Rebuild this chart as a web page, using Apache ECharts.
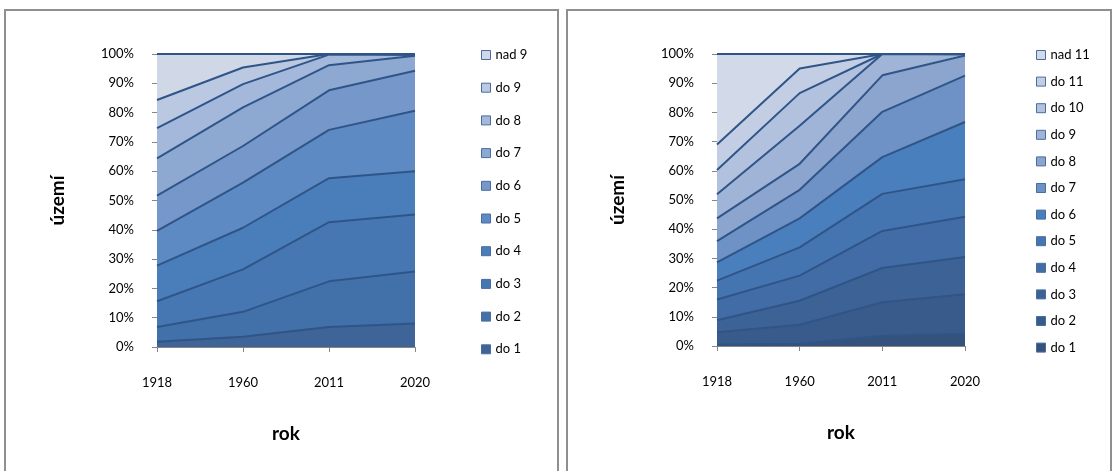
<!DOCTYPE html>
<html>
<head>
<meta charset="utf-8">
<script src="https://cdn.jsdelivr.net/npm/echarts@6/dist/echarts.min.js"></script>
<style>
  html, body { margin: 0; padding: 0; background: #fff; }
  #page { position: relative; width: 1114px; height: 471px; overflow: hidden; }
  .box { position: absolute; top: 9px; height: 480px; box-sizing: border-box; border: 2px solid #8f8f8f; }
  .chart { position: absolute; top: 0; height: 471px; }
</style>
</head>
<body>
<div id="page">
  <div class="box" style="left:4px; width:555px;"></div>
  <div class="box" style="left:566px; width:546px;"></div>
  <div id="left" class="chart" style="left:0; width:560px;"></div>
  <div id="right" class="chart" style="left:560px; width:554px;"></div>
</div>
<script>
// Census years on the horizontal axis
const years = ['1918', '1960', '2011', '2020'];
const yTickStep = 10;

// Left chart: share of territory per class (percent), from "do 1" up to "nad 9"
const leftNames = ['do 1', 'do 2', 'do 3', 'do 4', 'do 5', 'do 6', 'do 7', 'do 8', 'do 9', 'nad 9'];
const left_do1 = [1.8, 3.5, 6.8, 8.0];
const left_do2 = [5.0, 8.5, 15.6, 17.8];
const left_do3 = [8.8, 14.5, 20.2, 19.4];
const left_do4 = [12.2, 14.2, 15.0, 14.8];
const left_do5 = [11.8, 15.4, 16.5, 20.6];
const left_do6 = [12.1, 12.5, 13.5, 13.7];
const left_do7 = [12.7, 13.2, 8.6, 5.1];
const left_do8 = [10.3, 7.9, 3.6, 0.3];
const left_do9 = [9.6, 5.7, 0.2, 0.3];
const left_nad9 = [15.7, 4.6, 0.0, 0.0];
const leftShares = [left_do1, left_do2, left_do3, left_do4, left_do5, left_do6, left_do7, left_do8, left_do9, left_nad9];
const leftColors = ['#3e6498', '#4270a8', '#4677b2', '#4a7ebb', '#5e8ac3', '#7697c9', '#8ea9d1', '#a3b8da', '#bac8e1', '#d0d8e8'];

// Right chart: share of territory per class (percent), from "do 1" up to "nad 11"
const rightNames = ['do 1', 'do 2', 'do 3', 'do 4', 'do 5', 'do 6', 'do 7', 'do 8', 'do 9', 'do 10', 'do 11', 'nad 11'];
const right_do1 = [0.5, 0.8, 3.5, 4.2];
const right_do2 = [4.2, 6.5, 11.5, 13.5];
const right_do3 = [4.1, 8.2, 11.7, 12.8];
const right_do4 = [7.1, 8.6, 12.7, 13.8];
const right_do5 = [6.5, 9.7, 12.7, 12.8];
const right_do6 = [6.2, 9.9, 12.6, 19.6];
const right_do7 = [7.3, 9.8, 15.5, 15.9];
const right_do8 = [7.8, 8.9, 12.5, 6.9];
const right_do9 = [8.3, 13.0, 7.3, 0.3];
const right_do10 = [8.3, 11.2, 0.0, 0.2];
const right_do11 = [8.7, 8.4, 0.0, 0.0];
const right_nad11 = [31.0, 5.0, 0.0, 0.0];
const rightShares = [right_do1, right_do2, right_do3, right_do4, right_do5, right_do6, right_do7, right_do8, right_do9, right_do10, right_do11, right_nad11];
const rightColors = ['#35527c', '#395b8b', '#3d6396', '#416ca5', '#4575b0', '#4a7fbd', '#6e91c6', '#8ba5ce', '#a0b4d7', '#b2c1de', '#c3cee4', '#d2d9e8'];

const edgeColor = '#2f5588';
const axisGrey = '#868686';
const fontFamily = 'Lato, "Open Sans", "Liberation Sans", sans-serif';

function buildOption(names, shares, colors, plot, legendPos) {
  const series = names.map((name, i) => ({
    name: name,
    type: 'line',
    stack: 'share',
    data: shares[i],
    symbol: 'none',
    smooth: false,
    // lower bands sit above higher ones so every band's top edge stays visible
    z: 2 + (names.length - i),
    lineStyle: { color: edgeColor, width: 2 },
    areaStyle: { color: colors[i], opacity: 1 },
    itemStyle: { color: colors[i], borderColor: edgeColor, borderWidth: 1 },
    emphasis: { disabled: true }
  }));
  return {
    animation: false,
    textStyle: { fontFamily: fontFamily },
    grid: { left: plot.left, top: plot.top, width: plot.width, height: plot.height },
    xAxis: {
      type: 'category',
      data: years,
      boundaryGap: false,
      name: 'rok',
      nameLocation: 'middle',
      nameGap: 77,
      nameTextStyle: { fontSize: 19, fontWeight: 'bold', color: '#000', fontFamily: fontFamily },
      axisLine: { lineStyle: { color: axisGrey, width: 1 } },
      axisTick: { show: true, length: 5, lineStyle: { color: axisGrey } },
      axisLabel: { margin: 29, fontSize: 13, color: '#000', fontFamily: fontFamily },
      splitLine: { show: false }
    },
    yAxis: {
      type: 'value',
      min: 0,
      max: 100,
      interval: yTickStep,
      name: 'území',
      nameLocation: 'middle',
      nameRotate: 90,
      nameGap: plot.nameGap,
      nameTextStyle: { fontSize: 19, fontWeight: 'bold', color: '#000', fontFamily: fontFamily },
      axisLine: { show: true, lineStyle: { color: axisGrey, width: 1 } },
      axisTick: { show: true, length: 5, lineStyle: { color: axisGrey } },
      axisLabel: { margin: 23, fontSize: 13, color: '#000', fontFamily: fontFamily, formatter: '{value}%' },
      splitLine: { show: false }
    },
    legend: {
      orient: 'vertical',
      left: legendPos.left,
      top: legendPos.top,
      data: names.slice().reverse(),
      icon: 'rect',
      itemWidth: 9,
      itemHeight: 9,
      itemGap: legendPos.gap,
      selectedMode: false,
      itemStyle: { borderColor: '#4a6d9e', borderWidth: 1 },
      textStyle: { fontSize: 13, color: '#000', fontFamily: fontFamily, lineHeight: 16 }
    },
    series: series
  };
}

const leftChart = echarts.init(document.getElementById('left'), null, { renderer: 'canvas' });
leftChart.setOption(buildOption(leftNames, leftShares, leftColors,
  { left: 157, top: 54, width: 258, height: 293, nameGap: 90 },
  { left: 476, top: 42, gap: 16.7 }));

const rightChart = echarts.init(document.getElementById('right'), null, { renderer: 'canvas' });
rightChart.setOption(buildOption(rightNames, rightShares, rightColors,
  { left: 157, top: 54, width: 248, height: 292, nameGap: 90 },
  { left: 471, top: 42, gap: 10.6 }));
</script>
</body>
</html>
